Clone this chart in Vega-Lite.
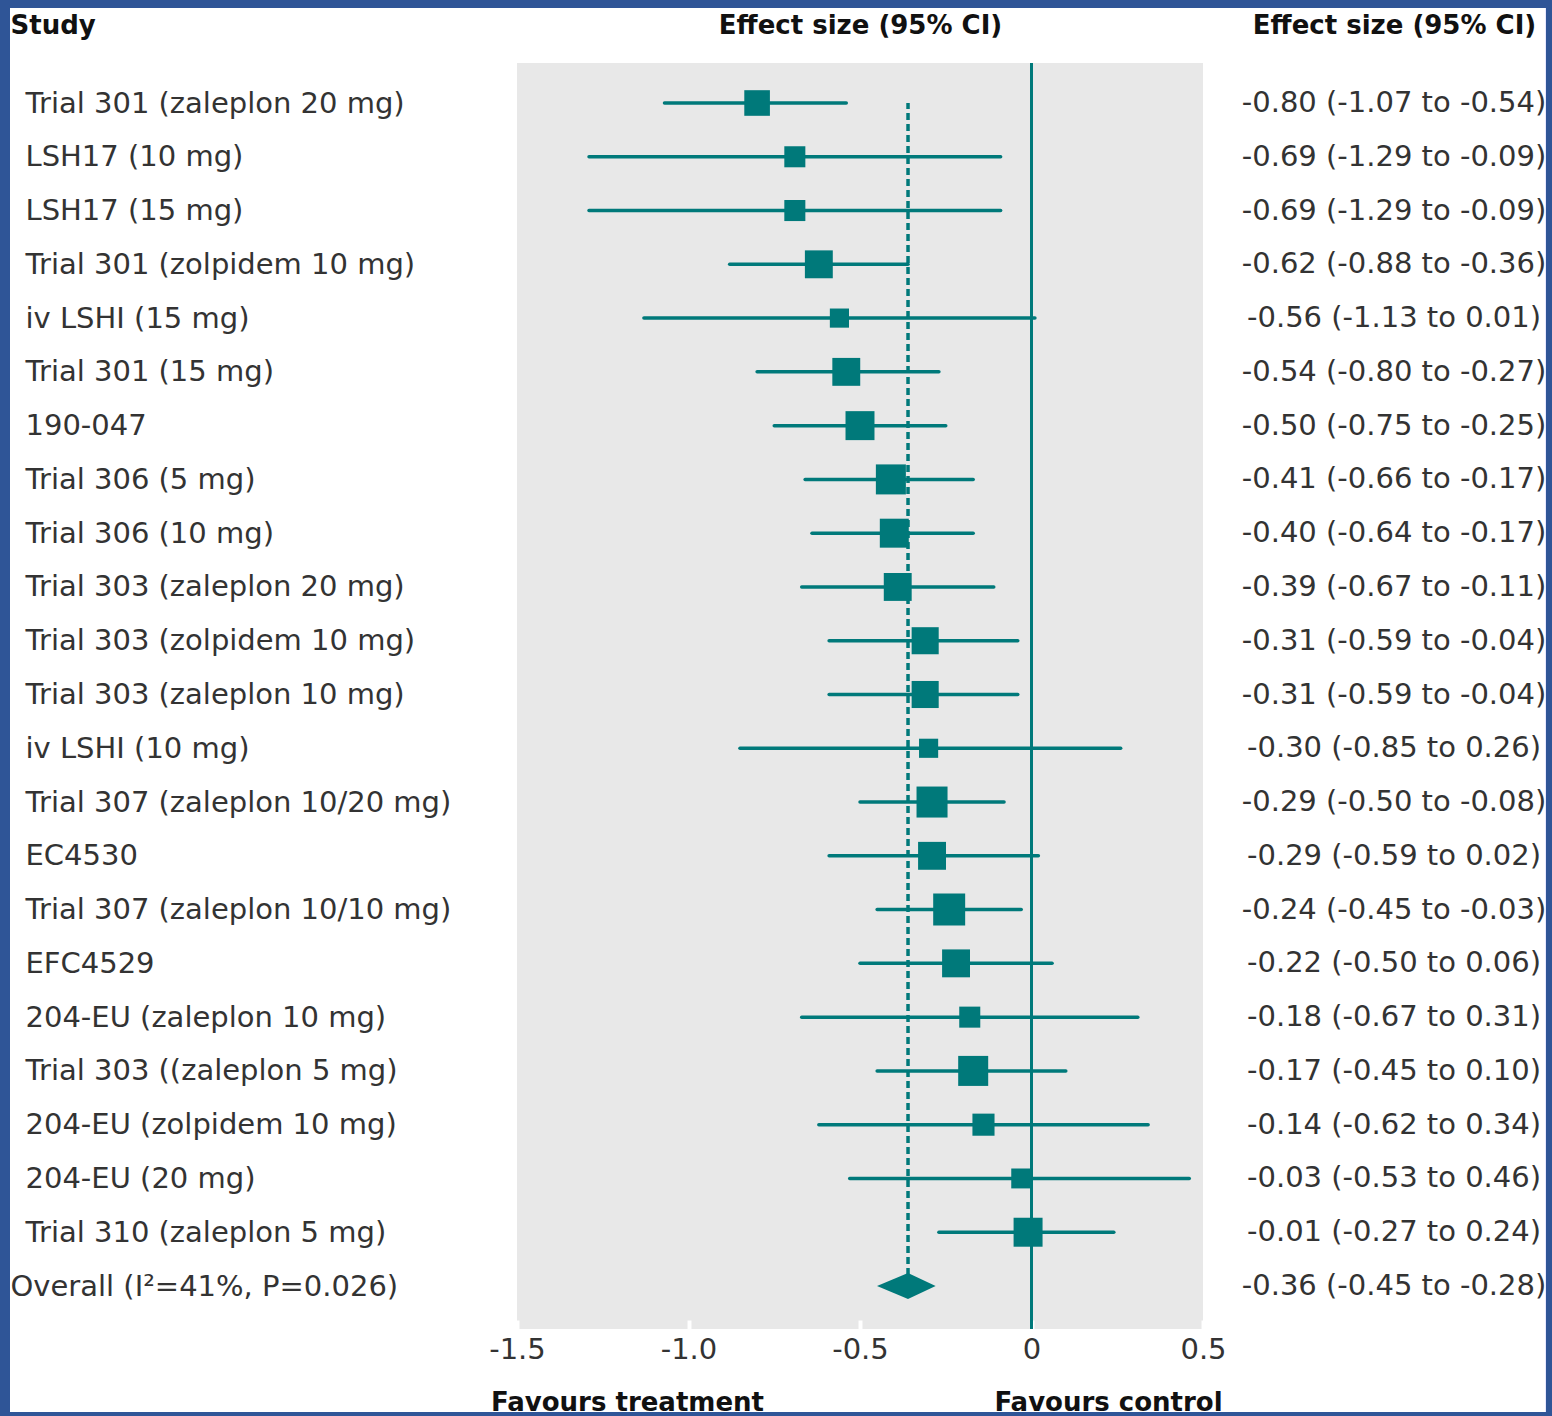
{
  "$schema": "https://vega.github.io/schema/vega-lite/v6.json",
  "width": 686,
  "height": 1266,
  "autosize": {"type": "none"},
  "padding": {"left": 517, "top": 63, "right": 349, "bottom": 87},
  "background": "white",
  "config": {
    "view": {"fill": "#e8e8e8", "stroke": null},
    "font": "DejaVu Sans",
    "axis": {"grid": false, "labelFont": "DejaVu Sans", "titleFont": "DejaVu Sans"}
  },
  "data": {
    "values": [
      {"study": "Trial 301 (zaleplon 20 mg)", "es": -0.80, "lo": -1.07, "hi": -0.54, "w": 4.3, "ci": "-0.80 (-1.07 to -0.54)", "overall": false},
      {"study": "LSH17 (10 mg)", "es": -0.69, "lo": -1.29, "hi": -0.09, "w": 2.9, "ci": "-0.69 (-1.29 to -0.09)", "overall": false},
      {"study": "LSH17 (15 mg)", "es": -0.69, "lo": -1.29, "hi": -0.09, "w": 2.9, "ci": "-0.69 (-1.29 to -0.09)", "overall": false},
      {"study": "Trial 301 (zolpidem 10 mg)", "es": -0.62, "lo": -0.88, "hi": -0.36, "w": 5.1, "ci": "-0.62 (-0.88 to -0.36)", "overall": false},
      {"study": "iv LSHI (15 mg)", "es": -0.56, "lo": -1.13, "hi": 0.01, "w": 2.4, "ci": "-0.56 (-1.13 to 0.01)", "overall": false},
      {"study": "Trial 301 (15 mg)", "es": -0.54, "lo": -0.80, "hi": -0.27, "w": 5.1, "ci": "-0.54 (-0.80 to -0.27)", "overall": false},
      {"study": "190-047", "es": -0.50, "lo": -0.75, "hi": -0.25, "w": 5.5, "ci": "-0.50 (-0.75 to -0.25)", "overall": false},
      {"study": "Trial 306 (5 mg)", "es": -0.41, "lo": -0.66, "hi": -0.17, "w": 5.9, "ci": "-0.41 (-0.66 to -0.17)", "overall": false},
      {"study": "Trial 306 (10 mg)", "es": -0.40, "lo": -0.64, "hi": -0.17, "w": 5.5, "ci": "-0.40 (-0.64 to -0.17)", "overall": false},
      {"study": "Trial 303 (zaleplon 20 mg)", "es": -0.39, "lo": -0.67, "hi": -0.11, "w": 5.1, "ci": "-0.39 (-0.67 to -0.11)", "overall": false},
      {"study": "Trial 303 (zolpidem 10 mg)", "es": -0.31, "lo": -0.59, "hi": -0.04, "w": 4.8, "ci": "-0.31 (-0.59 to -0.04)", "overall": false},
      {"study": "Trial 303 (zaleplon 10 mg)", "es": -0.31, "lo": -0.59, "hi": -0.04, "w": 4.8, "ci": "-0.31 (-0.59 to -0.04)", "overall": false},
      {"study": "iv LSHI (10 mg)", "es": -0.30, "lo": -0.85, "hi": 0.26, "w": 2.4, "ci": "-0.30 (-0.85 to 0.26)", "overall": false},
      {"study": "Trial 307 (zaleplon 10/20 mg)", "es": -0.29, "lo": -0.50, "hi": -0.08, "w": 6.3, "ci": "-0.29 (-0.50 to -0.08)", "overall": false},
      {"study": "EC4530", "es": -0.29, "lo": -0.59, "hi": 0.02, "w": 5.1, "ci": "-0.29 (-0.59 to 0.02)", "overall": false},
      {"study": "Trial 307 (zaleplon 10/10 mg)", "es": -0.24, "lo": -0.45, "hi": -0.03, "w": 6.7, "ci": "-0.24 (-0.45 to -0.03)", "overall": false},
      {"study": "EFC4529", "es": -0.22, "lo": -0.50, "hi": 0.06, "w": 5.1, "ci": "-0.22 (-0.50 to 0.06)", "overall": false},
      {"study": "204-EU (zaleplon 10 mg)", "es": -0.18, "lo": -0.67, "hi": 0.31, "w": 2.9, "ci": "-0.18 (-0.67 to 0.31)", "overall": false},
      {"study": "Trial 303 ((zaleplon 5 mg)", "es": -0.17, "lo": -0.45, "hi": 0.10, "w": 5.9, "ci": "-0.17 (-0.45 to 0.10)", "overall": false},
      {"study": "204-EU (zolpidem 10 mg)", "es": -0.14, "lo": -0.62, "hi": 0.34, "w": 3.2, "ci": "-0.14 (-0.62 to 0.34)", "overall": false},
      {"study": "204-EU (20 mg)", "es": -0.03, "lo": -0.53, "hi": 0.46, "w": 2.6, "ci": "-0.03 (-0.53 to 0.46)", "overall": false},
      {"study": "Trial 310 (zaleplon 5 mg)", "es": -0.01, "lo": -0.27, "hi": 0.24, "w": 5.5, "ci": "-0.01 (-0.27 to 0.24)", "overall": false},
      {"study": "Overall (I²=41%, P=0.026)", "es": -0.36, "lo": -0.45, "hi": -0.28, "w": null, "ci": "-0.36 (-0.45 to -0.28)", "overall": true}
    ]
  },
  "layer": [
    {
      "mark": {"type": "text", "align": "center", "baseline": "middle", "fontSize": 29, "font": "DejaVu Sans", "color": "#333333"},
      "encoding": {
        "y": {
          "field": "study", "type": "nominal", "sort": null,
          "scale": {"type": "point", "range": [40, 1223], "padding": 0},
          "axis": {
            "orient": "left", "domain": false, "ticks": false,
            "labelAlign": "left", "labelBaseline": "middle", "labelFontSize": 29, "labelColor": "#333333",
            "labelLimit": 0, "labelOverlap": false,
            "labelPadding": {"condition": {"test": "indexof(datum.label, 'Overall') === 0", "value": 507}, "value": 492},
            "title": "Study", "titleAngle": 0, "titleAlign": "left", "titleBaseline": "alphabetic",
            "titleX": -507, "titleY": -30, "titleFontSize": 26, "titleFontWeight": "bold", "titleColor": "#111111"
          }
        },
        "x": {"datum": 1.0569, "type": "quantitative", "scale": {"domain": [-1.5, 0.5], "nice": false, "zero": false}, "axis": null},
        "text": {"field": "ci", "type": "nominal"}
      }
    },
    {
      "mark": {"type": "rule", "color": "#00797a", "strokeWidth": 3},
      "encoding": {
        "x": {
          "datum": 0, "type": "quantitative",
          "axis": {
            "orient": "top", "domain": false, "ticks": false, "labels": false,
            "title": "Effect size (95% CI)", "titleX": 343, "titleY": -30, "titleAlign": "center", "titleBaseline": "alphabetic",
            "titleFontSize": 26, "titleFontWeight": "bold", "titleColor": "#111111"
          }
        }
      }
    },
    {
      "transform": [{"filter": "datum.overall"}],
      "mark": {"type": "rule", "color": "#00797a", "strokeWidth": 3.5, "strokeDash": [7, 4]},
      "encoding": {
        "x": {"field": "es", "type": "quantitative", "axis": null},
        "y": {"field": "study", "type": "nominal", "sort": null, "axis": null},
        "y2": {"datum": "Trial 301 (zaleplon 20 mg)"}
      }
    },
    {
      "transform": [{"filter": "!datum.overall"}],
      "mark": {"type": "rule", "color": "#00797a", "strokeWidth": 3.5, "strokeCap": "round"},
      "encoding": {
        "x": {
          "field": "lo", "type": "quantitative",
          "axis": {
            "orient": "bottom", "values": [-1.5, -1, -0.5, 0, 0.5],
            "labelExpr": "datum.value == 0 ? '0' : replace(format(datum.value, '.1f'), '−', '-')",
            "labelFontSize": 29, "labelColor": "#333333", "labelFlush": false, "labelPadding": 15, "labelOverlap": false,
            "domain": false, "tickColor": "white", "tickWidth": 4, "tickSize": -9,
            "title": "Favours treatment", "titleX": 110, "titleY": 81, "titleAlign": "center", "titleBaseline": "alphabetic",
            "titleFontSize": 26, "titleFontWeight": "bold", "titleColor": "#111111"
          }
        },
        "x2": {"field": "hi"},
        "y": {
          "field": "study", "type": "nominal", "sort": null,
          "axis": {
            "orient": "right", "domain": false, "ticks": false, "labels": false,
            "title": "Effect size (95% CI)", "titleAngle": 0, "titleX": 191, "titleY": -30, "titleAlign": "center", "titleBaseline": "alphabetic",
            "titleFontSize": 26, "titleFontWeight": "bold", "titleColor": "#111111"
          }
        }
      }
    },
    {
      "transform": [{"filter": "!datum.overall"}],
      "mark": {"type": "point", "shape": "square", "filled": true, "opacity": 1, "color": "#00797a", "strokeWidth": 0},
      "encoding": {
        "x": {
          "field": "es", "type": "quantitative",
          "axis": {
            "orient": "bottom", "domain": false, "ticks": false, "labels": false,
            "title": "Favours control", "titleX": 591, "titleY": 81, "titleAlign": "center", "titleBaseline": "alphabetic",
            "titleFontSize": 26, "titleFontWeight": "bold", "titleColor": "#111111"
          }
        },
        "y": {"field": "study", "type": "nominal", "sort": null, "axis": null},
        "size": {"field": "w", "type": "quantitative", "scale": {"domain": [0, 10], "range": [0, 1526.5]}, "legend": null}
      }
    },
    {
      "transform": [{"filter": "datum.overall"}],
      "mark": {"type": "point", "shape": "M-1,0L0,-0.42L0.89,0L0,0.42Z", "filled": true, "opacity": 1, "color": "#00797a", "size": 3844, "strokeWidth": 0},
      "encoding": {
        "x": {"field": "es", "type": "quantitative", "axis": null},
        "y": {"field": "study", "type": "nominal", "sort": null, "axis": null}
      }
    },
    {
      "mark": {"type": "rect", "filled": false, "color": "#2f5597", "strokeWidth": 20, "yOffset": -105, "y2Offset": 136},
      "encoding": {
        "x": {"datum": -3.00729, "type": "quantitative", "axis": null},
        "x2": {"datum": 1.52915},
        "y": {"datum": "Trial 301 (zaleplon 20 mg)", "type": "nominal", "axis": null},
        "y2": {"datum": "Overall (I²=41%, P=0.026)"}
      }
    }
  ],
  "resolve": {"axis": {"x": "independent", "y": "independent"}}
}
